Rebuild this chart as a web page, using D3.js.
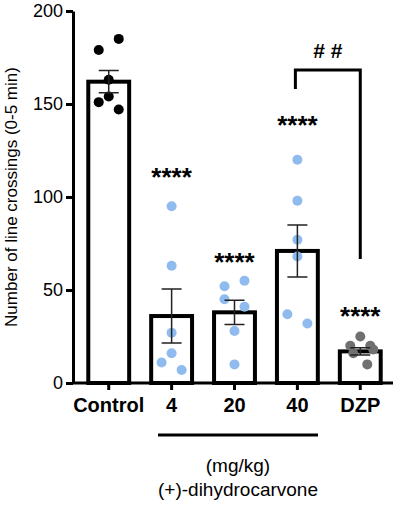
<!DOCTYPE html><html><head><script src="https://cdn.jsdelivr.net/npm/d3@7"></script>
<style>body{margin:0;background:#fff}</style></head><body><svg id="c" width="400" height="510"></svg>
<script>
const groups=["Control","4","20","40","DZP"];
const means=[162,36,38,71,17];
const sems=[6,14.5,6.5,14,2];
const points=[[179,185,163,151,154,147],[95,63,27,16,11,7],[52,55,45,41,28,10],[120,98,77,68,37,32],[25,20,20,18,16,10]];
const offsets=[[-10,10,0,-10,0,10],[0,0,0,0,-10,10],[-10,10,-10,10,0,0],[0,0,0,0,-10,10],[0,-10,10,13,-7,7]];
const stars=["","****","****","****","****"];
const starY=[0,110,64.5,138,35.5];
const yTicks=[0,50,100,150,200];
const colors=["#000","#8fbbee","#8fbbee","#8fbbee","#707070"];
const svg=d3.select("#c");
const F="Liberation Sans, Arial, sans-serif";
const x=d3.scaleBand().domain(groups).range([82,387]).paddingInner(0.35).paddingOuter(0.1);
const y=d3.scaleLinear().domain([0,200]).range([383,11]);
const bw=x.bandwidth();
const cx=g=>x(g)+bw/2;
const ya=svg.append("g").attr("transform","translate(73,0)").call(d3.axisLeft(y).tickValues(yTicks).tickSize(7).tickSizeOuter(0));
ya.select(".domain").attr("stroke-width",3);ya.selectAll("line").attr("stroke-width",3);
ya.selectAll("text").attr("font-family",F).attr("font-size",18).attr("fill","#000");
const xa=svg.append("g").attr("transform","translate(0,383)").call(d3.axisBottom(x).tickSize(7).tickSizeOuter(0));
xa.select(".domain").attr("stroke-width",3).attr("d","M73,0H393");xa.selectAll("line").attr("stroke-width",3);
xa.selectAll("text").attr("font-family",F).attr("font-size",20).attr("font-weight","bold").attr("fill","#000").attr("dy","0.95em");
groups.forEach((g,i)=>{
 svg.append("rect").attr("x",x(g)).attr("y",y(means[i])).attr("width",bw).attr("height",y(0)-y(means[i])).attr("fill","#fff").attr("stroke","#000").attr("stroke-width",4);
 points[i].forEach((v,j)=>svg.append("circle").attr("cx",cx(g)+offsets[i][j]).attr("cy",y(v)).attr("r",5).attr("fill",colors[i]));
 const c=cx(g),t=y(means[i]+sems[i]),b=y(means[i]-sems[i]);
 svg.append("path").attr("d",`M${c},${t}V${b}M${c-10},${t}H${c+10}M${c-10},${b}H${c+10}`).attr("stroke","#222").attr("stroke-width",1.5).attr("fill","none");
 if(stars[i]) svg.append("text").attr("x",c).attr("y",y(starY[i])+8).attr("text-anchor","middle").attr("font-family",F).attr("font-size",26).attr("font-weight","bold").text(stars[i]);
});
const bx1=cx("40")-2,bx2=cx("DZP");
svg.append("path").attr("d",`M${bx1},89V70H${bx2}V259`).attr("stroke","#000").attr("stroke-width",3).attr("fill","none");
svg.append("text").attr("x",(bx1+bx2)/2).attr("y",58).attr("text-anchor","middle").attr("font-family",F).attr("font-size",21).attr("font-weight","bold").text("# #");
svg.append("line").attr("x1",158).attr("x2",318).attr("y1",435).attr("y2",435).attr("stroke","#000").attr("stroke-width",3);
svg.append("text").attr("x",238).attr("y",472).attr("text-anchor","middle").attr("font-family",F).attr("font-size",19).text("(mg/kg)");
svg.append("text").attr("x",238).attr("y",496).attr("text-anchor","middle").attr("font-family",F).attr("font-size",19).text("(+)-dihydrocarvone");
svg.append("text").attr("transform","translate(17,197) rotate(-90)").attr("text-anchor","middle").attr("font-family",F).attr("font-size",17).text("Number of line crossings (0-5 min)");
</script></body></html>
